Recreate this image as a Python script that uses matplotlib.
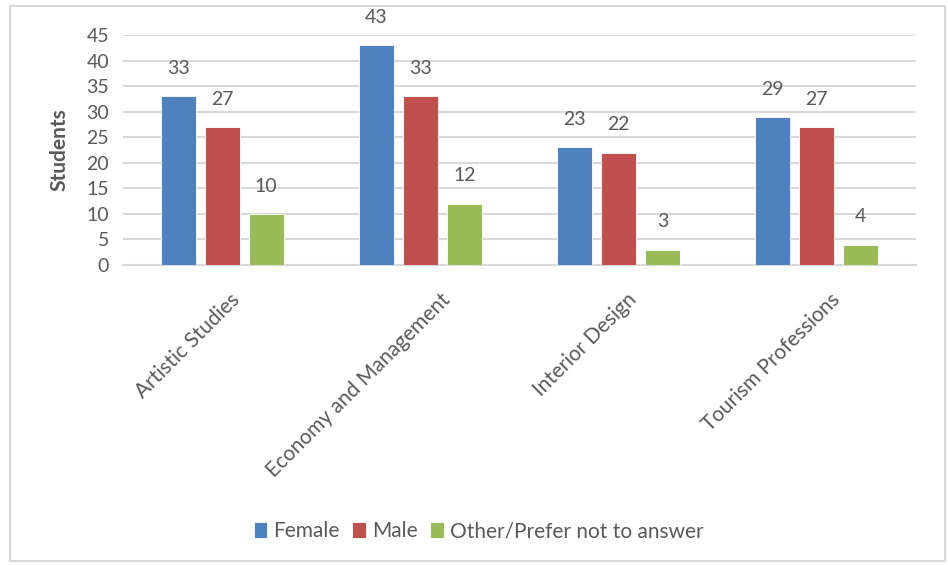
import matplotlib
matplotlib.use("Agg")
import matplotlib.pyplot as plt
import matplotlib.transforms as mtransforms
from matplotlib.patches import Rectangle
import numpy as np

# ---------------- DATA ----------------
categories = ["Artistic Studies", "Economy and Management", "Interior Design", "Tourism Professions"]
female = [33, 43, 23, 29]
male = [27, 33, 22, 27]
other = [10, 12, 3, 4]
series_names = ["Female", "Male", "Other/Prefer not to answer"]
colors = ["#4F81BD", "#C0504D", "#9BBB59"]

TEXT = "#595959"
GRID = "#D9D9D9"
FS = 14

plt.rcParams["font.family"] = ["Lato", "DejaVu Sans"]

fig = plt.figure(figsize=(9.48, 5.65), dpi=100)
ax = fig.add_axes([0.1297, 0.531, 0.8365, 0.407])

# chart border
fig.patches.append(Rectangle((10 / 948, 4 / 565), 935 / 948, 555 / 565,
                             transform=fig.transFigure, fill=False,
                             edgecolor="#D9D9D9", linewidth=1.5))

x = np.arange(len(categories))
step = 0.222
width = 0.177
for i, (vals, name, col) in enumerate(zip([female, male, other], series_names, colors)):
    bars = ax.bar(x + (i - 1) * step, vals, width, color=col, label=name,
                  edgecolor="white", linewidth=0.6, zorder=3)
    for b, v in zip(bars, vals):
        ax.annotate(str(v), (b.get_x() + b.get_width() / 2, v),
                    xytext=(0, 20), textcoords="offset points",
                    ha="center", va="center", fontsize=FS, color=TEXT)

ax.set_xlim(-0.5, len(categories) - 0.5)
ax.set_ylim(0, 45)
ax.set_yticks(range(0, 46, 5))
ax.grid(axis="y", color=GRID, linewidth=1.5, zorder=0)
for s in ["top", "right", "left"]:
    ax.spines[s].set_visible(False)
ax.spines["bottom"].set_color(GRID)
ax.spines["bottom"].set_linewidth(1.5)
ax.tick_params(axis="both", length=0, colors=TEXT, labelsize=FS)
ax.tick_params(axis="y", pad=10)

ax.set_xticks(x)
ax.set_xticklabels(categories, rotation=45, ha="right", va="top",
                   rotation_mode="anchor", fontsize=15)
ax.tick_params(axis="x", pad=4)

# Excel-like placement: longer labels sit a bit further right of the tick
fig.canvas.draw()
for lbl in ax.get_xticklabels():
    w = lbl.get_window_extent().width
    dx = 0.15 * w - 9
    shift = mtransforms.ScaledTranslation(dx / 100, -19 / 100, fig.dpi_scale_trans)
    lbl.set_transform(lbl.get_transform() + shift)

ax.set_ylabel("Students", fontsize=15, color=TEXT, fontweight="bold", labelpad=12)

fig.legend(loc="center", bbox_to_anchor=(0.505, 0.06), ncol=3, frameon=False,
           fontsize=15, labelcolor=TEXT, handlelength=0.65, handleheight=0.85,
           handletextpad=0.3, columnspacing=0.6)

fig.savefig("out.png", dpi=100)
